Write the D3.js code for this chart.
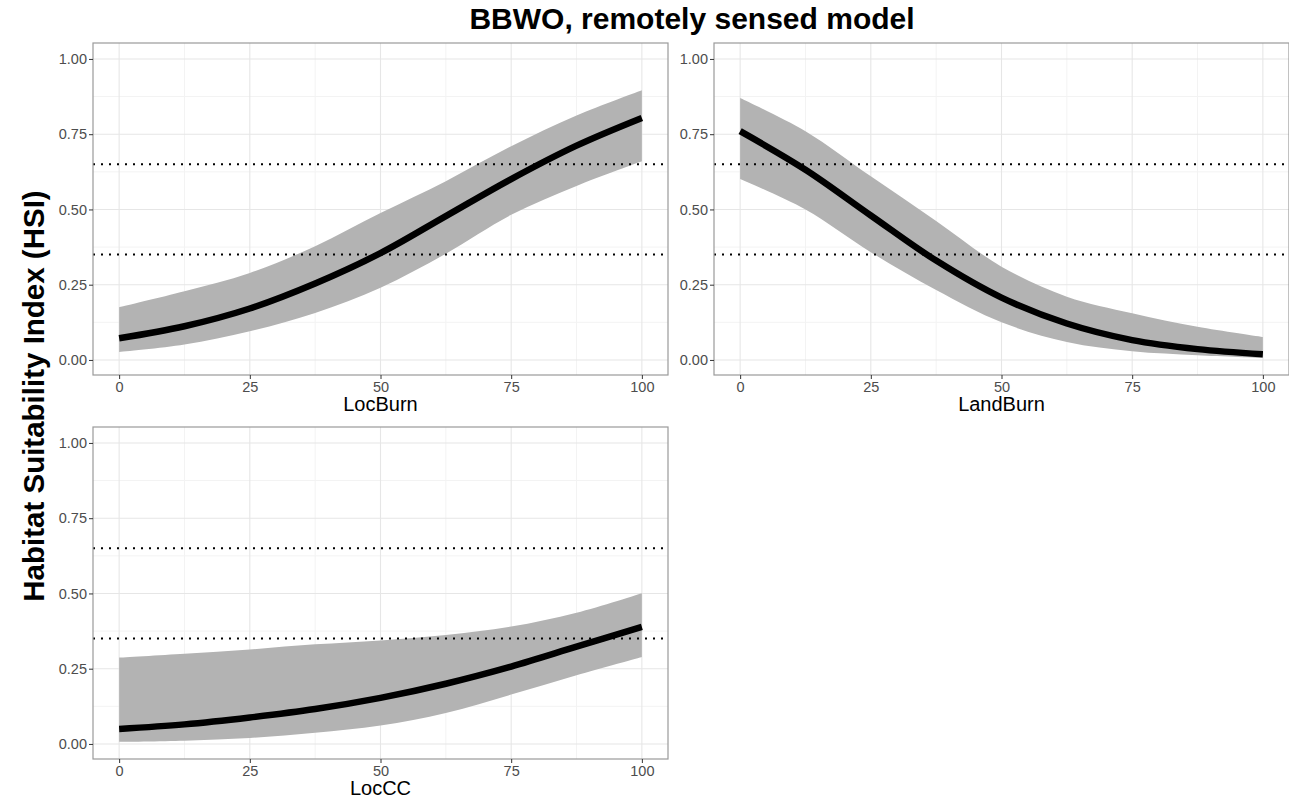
<!DOCTYPE html>
<html>
<head>
<meta charset="utf-8">
<script src="https://cdn.jsdelivr.net/npm/d3@7"></script>
<style>
  html, body { margin: 0; padding: 0; background: #fff; }
  svg { display: block; font-family: "Liberation Sans", Arial, Helvetica, sans-serif; }
</style>
</head>
<body>
<svg id="chart" width="1289" height="800"></svg>
<script>
// ---- data ----
const xValues = [0, 12.5, 25, 37.5, 50, 62.5, 75, 87.5, 100];

const locBurnFit   = [0.072, 0.112, 0.171, 0.254, 0.355, 0.478, 0.601, 0.712, 0.804];
const locBurnLower = [0.026, 0.051, 0.095, 0.156, 0.240, 0.353, 0.482, 0.578, 0.660];
const locBurnUpper = [0.175, 0.228, 0.289, 0.378, 0.488, 0.594, 0.710, 0.812, 0.896];

const landBurnFit   = [0.760, 0.632, 0.480, 0.330, 0.207, 0.121, 0.066, 0.036, 0.019];
const landBurnLower = [0.601, 0.500, 0.358, 0.232, 0.125, 0.060, 0.029, 0.016, 0.007];
const landBurnUpper = [0.870, 0.760, 0.610, 0.462, 0.310, 0.210, 0.155, 0.110, 0.076];

const locCCFit   = [0.050, 0.065, 0.088, 0.116, 0.153, 0.200, 0.257, 0.323, 0.389];
const locCCLower = [0.007, 0.011, 0.020, 0.037, 0.061, 0.103, 0.164, 0.228, 0.289];
const locCCUpper = [0.287, 0.300, 0.314, 0.331, 0.344, 0.362, 0.390, 0.436, 0.501];

const xTicks = [0, 25, 50, 75, 100];
const xMinor = [12.5, 37.5, 62.5, 87.5];
const yTicks = [0, 0.25, 0.5, 0.75, 1];
const yMinor = [0.125, 0.375, 0.625, 0.875];
const thresholds = [0.35, 0.65];

const panelNames = ["LocBurn", "LandBurn", "LocCC"];
const chartTitle = "BBWO, remotely sensed model";
const yTitle = "Habitat Suitability Index (HSI)";

// ---- layout ----
const panels = [
  { name: panelNames[0], fit: locBurnFit, lower: locBurnLower, upper: locBurnUpper, left: 93, top: 43 },
  { name: panelNames[1], fit: landBurnFit, lower: landBurnLower, upper: landBurnUpper, left: 714, top: 43 },
  { name: panelNames[2], fit: locCCFit, lower: locCCLower, upper: locCCUpper, left: 93, top: 427 }
];
const pw = 575, ph = 332;
const curve = d3.curveCatmullRom.alpha(0.5);

const svg = d3.select("#chart");

svg.append("text")
  .attr("x", 692).attr("y", 29)
  .attr("text-anchor", "middle")
  .attr("font-size", 30).attr("font-weight", "bold")
  .attr("fill", "#000")
  .text(chartTitle);

svg.append("text")
  .attr("transform", "translate(33,396) rotate(-90)")
  .attr("text-anchor", "middle")
  .attr("dominant-baseline", "central")
  .attr("font-size", 29.5).attr("font-weight", "bold")
  .attr("fill", "#000")
  .text(yTitle);

panels.forEach(p => {
  const x = d3.scaleLinear().domain([-5, 105]).range([0, pw]);
  const y = d3.scaleLinear().domain([-0.05, 1.053]).range([ph, 0]);
  const g = svg.append("g").attr("transform", `translate(${p.left},${p.top})`);

  g.append("rect").attr("width", pw).attr("height", ph).attr("fill", "#fff");

  // minor grid
  g.selectAll(".xminor").data(xMinor).enter().append("line")
    .attr("x1", d => x(d)).attr("x2", d => x(d)).attr("y1", 0).attr("y2", ph)
    .attr("stroke", "#f3f3f3").attr("stroke-width", 1);
  g.selectAll(".yminor").data(yMinor).enter().append("line")
    .attr("y1", d => y(d)).attr("y2", d => y(d)).attr("x1", 0).attr("x2", pw)
    .attr("stroke", "#f3f3f3").attr("stroke-width", 1);
  // major grid
  g.selectAll(".xmajor").data(xTicks).enter().append("line")
    .attr("x1", d => x(d)).attr("x2", d => x(d)).attr("y1", 0).attr("y2", ph)
    .attr("stroke", "#e6e6e6").attr("stroke-width", 1.1);
  g.selectAll(".ymajor").data(yTicks).enter().append("line")
    .attr("y1", d => y(d)).attr("y2", d => y(d)).attr("x1", 0).attr("x2", pw)
    .attr("stroke", "#e6e6e6").attr("stroke-width", 1.1);

  const pts = xValues.map((v, i) => ({ x: v, fit: p.fit[i], lo: p.lower[i], hi: p.upper[i] }));

  g.append("path").datum(pts)
    .attr("d", d3.area().curve(curve)
      .x(d => x(d.x)).y0(d => y(d.lo)).y1(d => y(d.hi)))
    .attr("fill", "#b3b3b3");

  thresholds.forEach(t => {
    g.append("line")
      .attr("x1", 0).attr("x2", pw).attr("y1", y(t)).attr("y2", y(t))
      .attr("stroke", "#000").attr("stroke-width", 2)
      .attr("stroke-dasharray", "2,6");
  });

  g.append("path").datum(pts)
    .attr("d", d3.line().curve(curve).x(d => x(d.x)).y(d => y(d.fit)))
    .attr("fill", "none").attr("stroke", "#000").attr("stroke-width", 6.5);

  g.append("rect").attr("width", pw).attr("height", ph)
    .attr("fill", "none").attr("stroke", "#9a9a9a").attr("stroke-width", 1.2);

  // axes
  const xAxis = g.append("g").attr("transform", `translate(0,${ph})`)
    .call(d3.axisBottom(x).tickValues(xTicks).tickFormat(d3.format("d")).tickSize(4).tickPadding(3));
  const yAxis = g.append("g")
    .call(d3.axisLeft(y).tickValues(yTicks).tickFormat(d3.format(".2f")).tickSize(4).tickPadding(2));
  [xAxis, yAxis].forEach(a => {
    a.select(".domain").remove();
    a.selectAll(".tick line").attr("stroke", "#333");
    a.selectAll(".tick text").attr("fill", "#4d4d4d").attr("font-size", 14.5)
      .attr("font-family", "'Liberation Sans', Arial, sans-serif");
  });

  g.append("text")
    .attr("x", pw / 2).attr("y", ph + 36)
    .attr("text-anchor", "middle")
    .attr("font-size", 20).attr("fill", "#000")
    .text(p.name);
});
</script>
</body>
</html>
